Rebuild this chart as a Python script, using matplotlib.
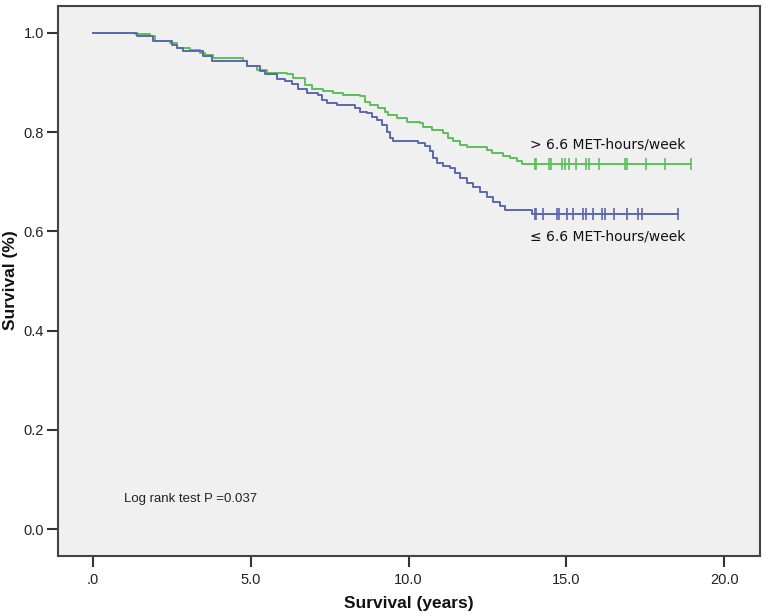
import matplotlib
matplotlib.use("Agg")
import matplotlib.pyplot as plt

# ---- data ----
# > 6.6 MET-hours/week (green): event times (years) and survival after each step
green_t = [0.0, 1.34, 1.81, 1.97, 2.45, 2.66, 3.08, 3.40, 3.56, 3.82, 4.77, 4.88, 5.19, 5.51,
           6.14, 6.35, 6.72, 6.93, 7.30, 7.62, 7.94, 8.46, 8.62, 8.78, 9.04, 9.26, 9.36, 9.63,
           9.94, 10.36, 10.47, 10.73, 11.10, 11.26, 11.42, 11.63, 11.84, 12.48, 12.63, 13.00,
           13.21, 13.43, 13.58]
green_s = [1.000, 0.997, 0.993, 0.983, 0.980, 0.970, 0.966, 0.960, 0.956, 0.950, 0.943, 0.933,
           0.926, 0.919, 0.916, 0.909, 0.895, 0.886, 0.882, 0.878, 0.875, 0.872, 0.861, 0.855,
           0.848, 0.841, 0.835, 0.828, 0.821, 0.818, 0.811, 0.804, 0.798, 0.788, 0.781, 0.774,
           0.769, 0.764, 0.757, 0.752, 0.747, 0.741, 0.736]
green_end = 18.94
green_cens = [14.0, 14.03, 14.46, 14.51, 14.85, 14.96, 15.09, 15.31, 15.62, 15.72, 16.03,
              16.86, 16.93, 17.52, 18.12, 18.94]

# <= 6.6 MET-hours/week (blue)
blue_t = [0.0, 1.39, 1.92, 2.50, 2.66, 2.87, 3.50, 3.77, 4.88, 5.30, 5.46, 5.83, 6.09, 6.30,
          6.51, 6.78, 7.14, 7.25, 7.41, 7.73, 8.31, 8.46, 8.68, 8.83, 8.99, 9.15, 9.31, 9.41,
          9.52, 10.31, 10.52, 10.68, 10.79, 10.89, 11.10, 11.31, 11.47, 11.63, 11.84, 12.05,
          12.26, 12.48, 12.69, 12.90, 13.06, 13.92]
blue_s = [1.000, 0.993, 0.983, 0.975, 0.970, 0.963, 0.953, 0.943, 0.933, 0.923, 0.916, 0.906,
          0.903, 0.896, 0.886, 0.878, 0.875, 0.865, 0.858, 0.855, 0.848, 0.841, 0.838, 0.831,
          0.825, 0.815, 0.801, 0.788, 0.783, 0.778, 0.771, 0.761, 0.747, 0.737, 0.732, 0.727,
          0.717, 0.707, 0.697, 0.690, 0.680, 0.670, 0.660, 0.651, 0.643, 0.634]
blue_end = 18.53
blue_cens = [14.0, 14.04, 14.27, 14.69, 14.78, 15.01, 15.22, 15.52, 15.61, 15.83, 16.13,
             16.23, 16.52, 16.91, 17.28, 17.40, 18.53]

x_ticks = [0, 5, 10, 15, 20]
x_ticklabels = [".0", "5.0", "10.0", "15.0", "20.0"]
y_ticks = [0.0, 0.2, 0.4, 0.6, 0.8, 1.0]
y_ticklabels = ["0.0", "0.2", "0.4", "0.6", "0.8", "1.0"]
label_hi = "> 6.6 MET-hours/week"
label_lo = "\u2264 6.6 MET-hours/week"
logrank = "Log rank test P =0.037"

# ---- drawing ----
plt.rcParams['font.family'] = ['Liberation Sans', 'DejaVu Sans']
fig = plt.figure(figsize=(7.67, 6.16), dpi=100)
ax = fig.add_axes([0.0756, 0.0974, 0.9153, 0.8929])
ax.set_facecolor('#f0f0f0')

green = '#5cbf5c'
blue = '#5a68ad'

def step_curve(t, s, end, cens, color):
    tt = list(t) + [end]
    ss = list(s) + [s[-1]]
    ax.step(tt, ss, where='post', color=color, lw=1.4, zorder=3)
    cs = []
    for c in cens:
        v = s[0]
        for ti, si in zip(t, s):
            if ti <= c:
                v = si
        cs.append(v)
    ax.plot(cens, cs, ls='none', marker='|', ms=8, mew=1.2, color=color, zorder=4)

step_curve(green_t, green_s, green_end, green_cens, green)
step_curve(blue_t, blue_s, blue_end, blue_cens, blue)

ax.set_xlim(-1.1, 21.13)
ax.set_ylim(-0.054, 1.054)
ax.set_xticks(x_ticks)
ax.set_xticklabels(x_ticklabels)
ax.set_yticks(y_ticks)
ax.set_yticklabels(y_ticklabels)
ax.tick_params(axis='both', direction='out', length=8, width=1.5, color='#333333',
               labelsize=10.5, labelcolor='#222222')
ax.tick_params(axis='x', pad=4)
ax.tick_params(axis='y', pad=2)
for sp in ax.spines.values():
    sp.set_color('#444444')
    sp.set_linewidth(1.5)

fig.text(0.533, 0.0195, "Survival (years)", fontsize=12.5, fontweight='bold',
         ha='center', va='center', color='#111111')
fig.text(0.014, 0.545, "Survival (%)", fontsize=12.5, fontweight='bold', rotation=90,
         ha='center', va='center', color='#111111')

ax.text(13.85, 0.775, label_hi, fontsize=10, family='DejaVu Sans', color='#111111',
        va='center', ha='left')
ax.text(13.85, 0.59, label_lo, fontsize=10, family='DejaVu Sans', color='#111111',
        va='center', ha='left')
ax.text(0.98, 0.06, logrank, fontsize=9.5, color='#222222', va='center', ha='left')

fig.savefig("out.png", dpi=100)
